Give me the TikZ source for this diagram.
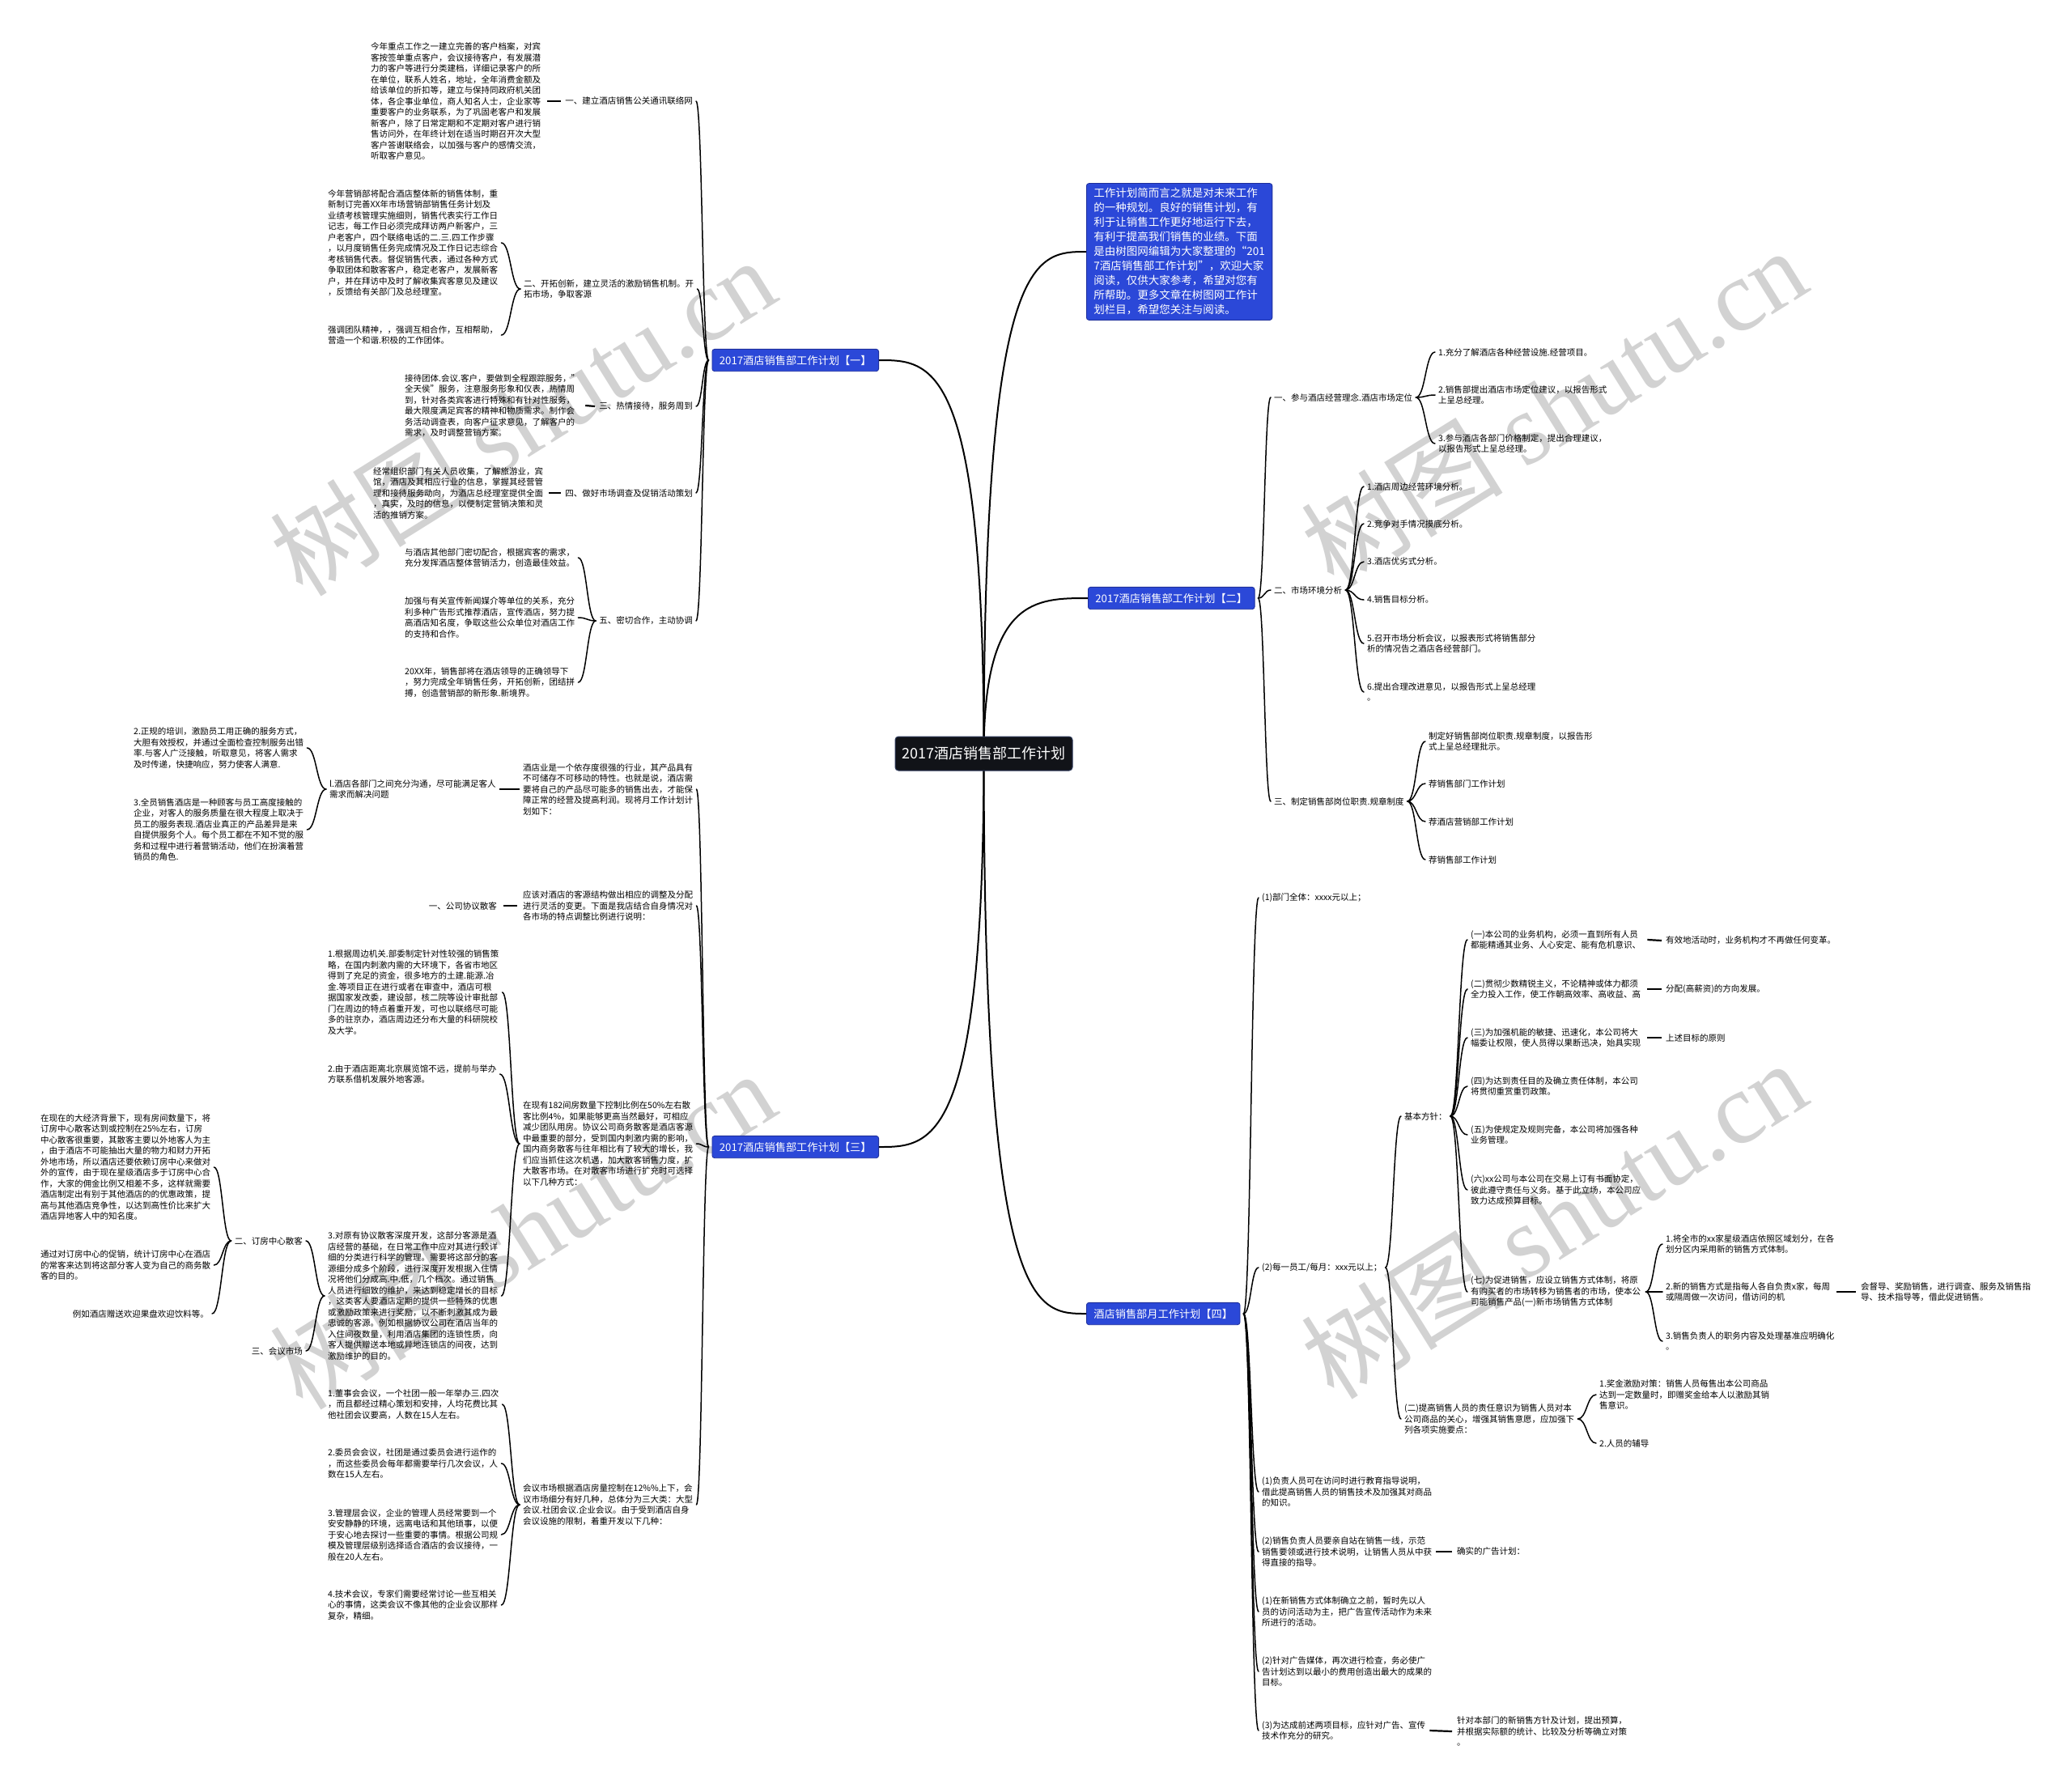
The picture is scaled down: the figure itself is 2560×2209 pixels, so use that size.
\documentclass[tikz,border=0pt]{standalone}
\usepackage{fontspec}
\setmainfont{Noto Sans CJK SC}
\newfontfamily\wmlatin{Liberation Serif}
\usetikzlibrary{calc}
\definecolor{bluefill}{HTML}{2B48D8}
\definecolor{blueline}{HTML}{1E2F9C}
\definecolor{rootfill}{HTML}{111318}
\definecolor{rootline}{HTML}{2E3A5C}
\definecolor{wmgray}{HTML}{D2D2D2}
\pgfdeclarelayer{bg}
\pgfsetlayers{bg,main}
\newcommand\mmcurve[2]{\draw[conn] let \p1=(#1), \p2=(#2) in (\p1) .. controls ({0.5*\x1+0.5*\x2},\y1) and ({0.5*\x1+0.5*\x2},\y2) .. (\p2);}
\newcommand\mmroot[2]{\draw[rootconn] let \p1=(#1), \p2=(#2) in (\p1) .. controls (\x1,\y2) and ({0.5*\x1+0.5*\x2},\y2) .. (\p2);}
\newcommand\mmline[2]{\draw[sconn] (#1) -- (#2);}
\tikzset{
 conn/.style={line width=1.5pt, line cap=round},
 rootconn/.style={line width=2pt, line cap=round},
 sconn/.style={line width=2.2pt},
 leaf/.style={inner sep=0pt, align=left, font=\fontsize{10.5pt}{13.5pt}\selectfont},
 leafr/.style={inner sep=0pt, align=right, font=\fontsize{10.5pt}{13.5pt}\selectfont},
 bluenode/.style={fill=bluefill, draw=blueline, line width=0.8pt, rounded corners=3pt, text=white, font=\fontsize{13.2pt}{16pt}\selectfont, inner xsep=9pt, inner ysep=7.5pt},
 rootnode/.style={fill=rootfill, draw=rootline, line width=1pt, rounded corners=4pt, text=white, font=\fontsize{18pt}{22pt}\selectfont, minimum width=219pt, minimum height=42pt, inner sep=0pt},
 intronode/.style={fill=bluefill, draw=blueline, line width=0.8pt, rounded corners=3pt, text=white, align=left, font=\fontsize{13.5pt}{18pt}\selectfont, inner xsep=9pt, inner ysep=6pt},
 wm/.style={text=wmgray, rotate=32, inner sep=0pt, font=\fontsize{125pt}{130pt}\selectfont}
}
\begin{document}
\begin{tikzpicture}[x=1pt,y=-1pt]
\begin{pgfonlayer}{bg}
\fill[white] (0,0) rectangle (2560,2209);
\node[wm] (wm1) at (645,514) {树图 {\wmlatin shutu.cn}};
\node[wm] (wm2) at (1919,502) {树图 {\wmlatin shutu.cn}};
\node[wm] (wm3) at (645,1519) {树图 {\wmlatin shutu.cn}};
\node[wm] (wm4) at (1919,1506) {树图 {\wmlatin shutu.cn}};
\end{pgfonlayer}
\useasboundingbox (0,0) rectangle (2560,2209);

% root and main branches
\node[rootnode] (root) at (1215.5,931) {2017酒店销售部工作计划};
\node[intronode, anchor=west] (intro) at (1342,311) {工作计划简而言之就是对未来工作\\的一种规划。良好的销售计划，有\\利于让销售工作更好地运行下去，\\有利于提高我们销售的业绩。下面\\是由树图网编辑为大家整理的“201\\7酒店销售部工作计划”，欢迎大家\\阅读，仅供大家参考，希望对您有\\所帮助。更多文章在树图网工作计\\划栏目，希望您关注与阅读。};
\node[bluenode, anchor=east] (B1) at (1086,445) {2017酒店销售部工作计划【一】};
\node[bluenode, anchor=west] (B2) at (1344,739) {2017酒店销售部工作计划【二】};
\node[bluenode, anchor=east] (B3) at (1086,1417) {2017酒店销售部工作计划【三】};
\node[bluenode, anchor=west] (B4) at (1342,1623) {酒店销售部月工作计划【四】};

% ===== branch 1 =====
\node[leaf, anchor=east] (L1a) at (856,125) {一、建立酒店销售公关通讯联络网};
\node[leaf, anchor=west] (L1ax) at (458,125) {今年重点工作之一建立完善的客户档案，对宾\\客按签单重点客户，会议接待客户，有发展潜\\力的客户等进行分类建档，详细记录客户的所\\在单位，联系人姓名，地址，全年消费金额及\\给该单位的折扣等，建立与保持同政府机关团\\体，各企事业单位，商人知名人士，企业家等\\重要客户的业务联系，为了巩固老客户和发展\\新客户，除了日常定期和不定期对客户进行销\\售访问外，在年终计划在适当时期召开次大型\\客户答谢联络会，以加强与客户的感情交流，\\听取客户意见。};
\node[leaf, anchor=west] (L1b) at (647,357) {二、开拓创新，建立灵活的激励销售机制。开\\拓市场，争取客源};
\node[leaf, anchor=west] (L1bx) at (405,300) {今年营销部将配合酒店整体新的销售体制，重\\新制订完善XX年市场营销部销售任务计划及\\业绩考核管理实施细则，销售代表实行工作日\\记志，每工作日必须完成拜访两户新客户，三\\户老客户，四个联络电话的二.三.四工作步骤\\，以月度销售任务完成情况及工作日记志综合\\考核销售代表。督促销售代表，通过各种方式\\争取团体和散客客户，稳定老客户，发展新客\\户，并在拜访中及时了解收集宾客意见及建议\\，反馈给有关部门及总经理室。};
\node[leaf, anchor=west] (L1by) at (405,414) {强调团队精神，，强调互相合作，互相帮助，\\营造一个和谐.积极的工作团体。};
\node[leaf, anchor=east] (L1c) at (856,502) {三、热情接待，服务周到};
\node[leaf, anchor=west] (L1cx) at (500,501) {接待团体.会议.客户，要做到全程跟踪服务，"\\全天侯"服务，注意服务形象和仪表，热情周\\到，针对各类宾客进行特殊和有针对性服务，\\最大限度满足宾客的精神和物质需求。制作会\\务活动调查表，向客户征求意见，了解客户的\\需求，及时调整营销方案。};
\node[leaf, anchor=east] (L1d) at (856,609) {四、做好市场调查及促销活动策划};
\node[leaf, anchor=west] (L1dx) at (461,609) {经常组织部门有关人员收集，了解旅游业，宾\\馆，酒店及其相应行业的信息，掌握其经营管\\理和接待服务动向，为酒店总经理室提供全面\\，真实，及时的信息，以便制定营销决策和灵\\活的推销方案。};
\node[leaf, anchor=east] (L1e) at (856,767) {五、密切合作，主动协调};
\node[leaf, anchor=west] (L1ex) at (500,689) {与酒店其他部门密切配合，根据宾客的需求，\\充分发挥酒店整体营销活力，创造最佳效益。};
\node[leaf, anchor=west] (L1ey) at (500,763) {加强与有关宣传新闻媒介等单位的关系，充分\\利多种广告形式推荐酒店，宣传酒店，努力提\\高酒店知名度，争取这些公众单位对酒店工作\\的支持和合作。};
\node[leaf, anchor=west] (L1ez) at (500,843) {20XX年，销售部将在酒店领导的正确领导下\\，努力完成全年销售任务，开拓创新，团结拼\\搏，创造营销部的新形象.新境界。};

% ===== branch 3 =====
\node[leaf, anchor=west] (L3a) at (646,975) {酒店业是一个依存度很强的行业，其产品具有\\不可储存不可移动的特性。也就是说，酒店需\\要将自己的产品尽可能多的销售出去，才能保\\障正常的经营及提高利润。现将月工作计划计\\划如下：};
\node[leaf, anchor=west] (L3a1) at (407,975) {l.酒店各部门之间充分沟通，尽可能满足客人\\需求而解决问题};
\node[leaf, anchor=west] (L3a1a) at (165,924) {2.正规的培训，激励员工用正确的服务方式，\\大胆有效授权，并通过全面检查控制服务出错\\率.与客人广泛接触，听取意见，将客人需求\\及时传递，快捷响应，努力使客人满意.};
\node[leaf, anchor=west] (L3a1b) at (165,1025) {3.全员销售酒店是一种顾客与员工高度接触的\\企业，对客人的服务质量在很大程度上取决于\\员工的服务表现.酒店业真正的产品差异是来\\自提供服务个人。每个员工都在不知不觉的服\\务和过程中进行着营销活动，他们在扮演着营\\销员的角色.};
\node[leaf, anchor=west] (L3b) at (646,1119) {应该对酒店的客源结构做出相应的调整及分配\\进行灵活的变更。下面是我店结合自身情况对\\各市场的特点调整比例进行说明：};
\node[leaf, anchor=east] (L3b1) at (614,1119) {一、公司协议散客};
\node[leaf, anchor=west] (L3c) at (646,1413) {在现有182间房数量下控制比例在50\%左右散\\客比例4\%，如果能够更高当然最好，可相应\\减少团队用房。协议公司商务散客是酒店客源\\中最重要的部分，受到国内刺激内需的影响，\\国内商务散客与往年相比有了较大的增长，我\\们应当抓住这次机遇，加大散客销售力度，扩\\大散客市场。在对散客市场进行扩充时可选择\\以下几种方式：};
\node[leaf, anchor=west] (L3c1) at (405,1226) {1.根据周边机关.部委制定针对性较强的销售策\\略，在国内刺激内需的大环境下，各省市地区\\得到了充足的资金，很多地方的土建.能源.冶\\金.等项目正在进行或者在审查中，酒店可根\\据国家发改委，建设部，核二院等设计审批部\\门在周边的特点着重开发，可也以联络尽可能\\多的驻京办，酒店周边还分布大量的科研院校\\及大学。};
\node[leaf, anchor=west] (L3c2) at (405,1327) {2.由于酒店距离北京展览馆不远，提前与举办\\方联系借机发展外地客源。};
\node[leaf, anchor=west] (L3c3) at (405,1601) {3.对原有协议散客深度开发，这部分客源是酒\\店经营的基础，在日常工作中应对其进行较详\\细的分类进行科学的管理。需要将这部分的客\\源细分成多个阶段，进行深度开发根据入住情\\况将他们分成高.中.低，几个档次。通过销售\\人员进行细致的维护，来达到稳定增长的目标\\，这类客人要酒店定期的提供一些特殊的优惠\\或激励政策来进行奖励，以不断刺激其成为最\\忠诚的客源。例如根据协议公司在酒店当年的\\入住间夜数量，利用酒店集团的连锁性质，向\\客人提供赠送本地或异地连锁店的间夜，达到\\激励维护的目的。};
\node[leaf, anchor=east] (L3c3a) at (374,1533) {二、订房中心散客};
\node[leaf, anchor=west] (L3c3a1) at (50,1442) {在现在的大经济背景下，现有房间数量下，将\\订房中心散客达到或控制在25\%左右，订房\\中心散客很重要，其散客主要以外地客人为主\\，由于酒店不可能抽出大量的物力和财力开拓\\外地市场，所以酒店还要依赖订房中心来做对\\外的宣传，由于现在星级酒店多于订房中心合\\作，大家的佣金比例又相差不多，这样就需要\\酒店制定出有别于其他酒店的的优惠政策，提\\高与其他酒店竞争性，以达到高性价比来扩大\\酒店异地客人中的知名度。};
\node[leaf, anchor=west] (L3c3a2) at (50,1563) {通过对订房中心的促销，统计订房中心在酒店\\的常客来达到将这部分客人变为自己的商务散\\客的目的。};
\node[leafr, anchor=east] (L3c3a3) at (258,1623) {例如酒店赠送欢迎果盘欢迎饮料等。};
\node[leaf, anchor=east] (L3c3b) at (374,1669) {三、会议市场};
\node[leaf, anchor=west] (L3d) at (646,1859) {会议市场根据酒店房量控制在12\%\%上下，会\\议市场细分有好几种，总体分为三大类：大型\\会议.社团会议.企业会议。由于受到酒店自身\\会议设施的限制，着重开发以下几种：};
\node[leaf, anchor=west] (L3d1) at (405,1735) {1.董事会会议，一个社团一般一年举办三.四次\\，而且都经过精心策划和安排，人均花费比其\\他社团会议要高，人数在15人左右。};
\node[leaf, anchor=west] (L3d2) at (405,1808) {2.委员会会议，社团是通过委员会进行运作的\\，而这些委员会每年都需要举行几次会议，人\\数在15人左右。};
\node[leaf, anchor=west] (L3d3) at (405,1896) {3.管理层会议，企业的管理人员经常要到一个\\安安静静的环境，远离电话和其他琐事，以便\\于安心地去探讨一些重要的事情。根据公司规\\模及管理层级别选择适合酒店的会议接待，一\\般在20人左右。};
\node[leaf, anchor=west] (L3d4) at (405,1983) {4.技术会议，专家们需要经常讨论一些互相关\\心的事情，这类会议不像其他的企业会议那样\\复杂，精细。};

% ===== branch 2 =====
\node[leaf, anchor=west] (R2a) at (1574,491) {一、参与酒店经营理念.酒店市场定位};
\node[leaf, anchor=west] (R2a1) at (1777,435) {1.充分了解酒店各种经营设施.经营项目。};
\node[leaf, anchor=west] (R2a2) at (1777,488) {2.销售部提出酒店市场定位建议，以报告形式\\上呈总经理。};
\node[leaf, anchor=west] (R2a3) at (1777,548) {3.参与酒店各部门价格制定，提出合理建议，\\以报告形式上呈总经理。};
\node[leaf, anchor=west] (R2b) at (1574,729) {二、市场环境分析};
\node[leaf, anchor=west] (R2b1) at (1689,601) {1.酒店周边经营环境分析。};
\node[leaf, anchor=west] (R2b2) at (1689,647) {2.竞争对手情况摸底分析。};
\node[leaf, anchor=west] (R2b3) at (1689,694) {3.酒店优劣式分析。};
\node[leaf, anchor=west] (R2b4) at (1689,741) {4.销售目标分析。};
\node[leaf, anchor=west] (R2b5) at (1689,795) {5.召开市场分析会议，以报表形式将销售部分\\析的情况告之酒店各经营部门。};
\node[leaf, anchor=west] (R2b6) at (1689,855) {6.提出合理改进意见，以报告形式上呈总经理\\。};
\node[leaf, anchor=west] (R2c) at (1574,990) {三、制定销售部岗位职责.规章制度};
\node[leaf, anchor=west] (R2c1) at (1765,916) {制定好销售部岗位职责.规章制度，以报告形\\式上呈总经理批示。};
\node[leaf, anchor=west] (R2c2) at (1765,968) {荐销售部门工作计划};
\node[leaf, anchor=west] (R2c3) at (1765,1015) {荐酒店营销部工作计划};
\node[leaf, anchor=west] (R2c4) at (1765,1062) {荐销售部工作计划};

% ===== branch 4 =====
\node[leaf, anchor=west] (R4a) at (1559,1109) {(1)部门全体：xxxx元以上；};
\node[leaf, anchor=west] (R4b) at (1559,1566) {(2)每一员工/每月：xxx元以上；};
\node[leaf, anchor=west] (R4b1) at (1735,1379) {基本方针：};
\node[leaf, anchor=west] (K1) at (1817,1161) {(一)本公司的业务机构，必须一直到所有人员\\都能精通其业务、人心安定、能有危机意识、};
\node[leaf, anchor=west] (K1x) at (2058,1162) {有效地活动时，业务机构才不再做任何变革。};
\node[leaf, anchor=west] (K2) at (1817,1222) {(二)贯彻少数精锐主义，不论精神或体力都须\\全力投入工作，使工作朝高效率、高收益、高};
\node[leaf, anchor=west] (K2x) at (2058,1222) {分配(高薪资)的方向发展。};
\node[leaf, anchor=west] (K3) at (1817,1282) {(三)为加强机能的敏捷、迅速化，本公司将大\\幅委让权限，使人员得以果断迅决，始具实现};
\node[leaf, anchor=west] (K3x) at (2058,1282) {上述目标的原则};
\node[leaf, anchor=west] (K4) at (1817,1342) {(四)为达到责任目的及确立责任体制，本公司\\将贯彻重赏重罚政策。};
\node[leaf, anchor=west] (K5) at (1817,1402) {(五)为使规定及规则完备，本公司将加强各种\\业务管理。};
\node[leaf, anchor=west] (K6) at (1817,1470) {(六)xx公司与本公司在交易上订有书面协定，\\彼此遵守责任与义务。基于此立场，本公司应\\致力达成预算目标。};
\node[leaf, anchor=west] (K7) at (1817,1596) {(七)为促进销售，应设立销售方式体制，将原\\有购买者的市场转移为销售者的市场，使本公\\司能销售产品(一)新市场销售方式体制};
\node[leaf, anchor=west] (K7a) at (2058,1537) {1.将全市的xx家星级酒店依照区域划分，在各\\划分区内采用新的销售方式体制。};
\node[leaf, anchor=west] (K7b) at (2058,1596) {2.新的销售方式是指每人各自负责x家，每周\\或隔周做一次访问，借访问的机};
\node[leaf, anchor=west] (K7bx) at (2299,1596) {会督导、奖励销售，进行调查、服务及销售指\\导、技术指导等，借此促进销售。};
\node[leaf, anchor=west] (K7c) at (2058,1657) {3.销售负责人的职务内容及处理基准应明确化\\。};
\node[leaf, anchor=west] (R4b2) at (1735,1753) {(二)提高销售人员的责任意识为销售人员对本\\公司商品的关心，增强其销售意愿，应加强下\\列各项实施要点：};
\node[leaf, anchor=west] (R4b2a) at (1976,1723) {1.奖金激励对策：销售人员每售出本公司商品\\达到一定数量时，即赠奖金给本人以激励其销\\售意识。};
\node[leaf, anchor=west] (R4b2b) at (1976,1783) {2.人员的辅导};
\node[leaf, anchor=west] (R4c) at (1559,1843) {(1)负责人员可在访问时进行教育指导说明，\\借此提高销售人员的销售技术及加强其对商品\\的知识。};
\node[leaf, anchor=west] (R4d) at (1559,1917) {(2)销售负责人员要亲自站在销售一线，示范\\销售要领或进行技术说明，让销售人员从中获\\得直接的指导。};
\node[leaf, anchor=west] (R4dx) at (1800,1917) {确实的广告计划：};
\node[leaf, anchor=west] (R4e) at (1559,1991) {(1)在新销售方式体制确立之前，暂时先以人\\员的访问活动为主，把广告宣传活动作为未来\\所进行的活动。};
\node[leaf, anchor=west] (R4f) at (1559,2065) {(2)针对广告媒体，再次进行检查，务必使广\\告计划达到以最小的费用创造出最大的成果的\\目标。};
\node[leaf, anchor=west] (R4g) at (1559,2138) {(3)为达成前述两项目标，应针对广告、宣传\\技术作充分的研究。};
\node[leaf, anchor=west] (R4gx) at (1800,2139) {针对本部门的新销售方针及计划，提出预算，\\并根据实际额的统计、比较及分析等确立对策\\。};

% ===== connectors =====
\begin{pgfonlayer}{bg}
\mmroot{root.center}{intro.west}
\mmroot{root.center}{B1.east}
\mmroot{root.center}{B2.west}
\mmroot{root.center}{B3.east}
\mmroot{root.center}{B4.west}
% branch 1
\foreach \c in {L1a,L1b,L1c,L1d,L1e}{\mmcurve{[xshift=-4pt]B1.west}{[xshift=4pt]\c.east}}
\mmline{[xshift=8pt]L1ax.east}{[xshift=-5pt]L1a.west}
\mmcurve{[xshift=-4pt]L1b.west}{[xshift=4pt]L1bx.east}
\mmcurve{[xshift=-4pt]L1b.west}{[xshift=4pt]L1by.east}
\mmline{[xshift=7pt]L1cx.east}{[xshift=-5pt]L1c.west}
\mmline{[xshift=7pt]L1dx.east}{[xshift=-5pt]L1d.west}
\foreach \c in {L1ex,L1ey,L1ez}{\mmcurve{[xshift=-4pt]L1e.west}{[xshift=4pt]\c.east}}
% branch 3
\foreach \c in {L3a,L3b,L3c,L3d}{\mmcurve{[xshift=-4pt]B3.west}{[xshift=4pt]\c.east}}
\mmline{[xshift=4pt]L3a1.east}{[xshift=-4pt]L3a.west}
\foreach \c in {L3a1a,L3a1b}{\mmcurve{[xshift=-4pt]L3a1.west}{[xshift=4pt]\c.east}}
\mmline{[xshift=8pt]L3b1.east}{[xshift=-7pt]L3b.west}
\foreach \c in {L3c1,L3c2,L3c3}{\mmcurve{[xshift=-4pt]L3c.west}{[xshift=4pt]\c.east}}
\foreach \c in {L3c3a,L3c3b}{\mmcurve{[xshift=-4pt]L3c3.west}{[xshift=4pt]\c.east}}
\foreach \c in {L3c3a1,L3c3a2,L3c3a3}{\mmcurve{[xshift=-4pt]L3c3a.west}{[xshift=4pt]\c.east}}
\foreach \c in {L3d1,L3d2,L3d3,L3d4}{\mmcurve{[xshift=-4pt]L3d.west}{[xshift=4pt]\c.east}}
% branch 2
\foreach \c in {R2a,R2b,R2c}{\mmcurve{[xshift=4pt]B2.east}{[xshift=-4pt]\c.west}}
\foreach \c in {R2a1,R2a2,R2a3}{\mmcurve{[xshift=4pt]R2a.east}{[xshift=-4pt]\c.west}}
\foreach \c in {R2b1,R2b2,R2b3,R2b4,R2b5,R2b6}{\mmcurve{[xshift=4pt]R2b.east}{[xshift=-4pt]\c.west}}
\foreach \c in {R2c1,R2c2,R2c3,R2c4}{\mmcurve{[xshift=4pt]R2c.east}{[xshift=-4pt]\c.west}}
% branch 4
\foreach \c in {R4a,R4b,R4c,R4d,R4e,R4f,R4g}{\mmcurve{[xshift=4pt]B4.east}{[xshift=-4pt]\c.west}}
\foreach \c in {R4b1,R4b2}{\mmcurve{[xshift=4pt]R4b.east}{[xshift=-4pt]\c.west}}
\foreach \c in {K1,K2,K3,K4,K5,K6,K7}{\mmcurve{[xshift=4pt]R4b1.east}{[xshift=-4pt]\c.west}}
\mmline{[xshift=8pt]K1.east}{[xshift=-5pt]K1x.west}
\mmline{[xshift=8pt]K2.east}{[xshift=-5pt]K2x.west}
\mmline{[xshift=8pt]K3.east}{[xshift=-5pt]K3x.west}
\foreach \c in {K7a,K7b,K7c}{\mmcurve{[xshift=6pt]K7.east}{[xshift=-4pt]\c.west}}
\mmline{[xshift=8pt]K7b.east}{[xshift=-6pt]K7bx.west}
\foreach \c in {R4b2a,R4b2b}{\mmcurve{[xshift=4pt]R4b2.east}{[xshift=-4pt]\c.west}}
\mmline{[xshift=5pt]R4d.east}{[xshift=-6pt]R4dx.west}
\mmline{[xshift=5pt]R4g.east}{[xshift=-6pt]R4gx.west}
\end{pgfonlayer}
\end{tikzpicture}
\end{document}
